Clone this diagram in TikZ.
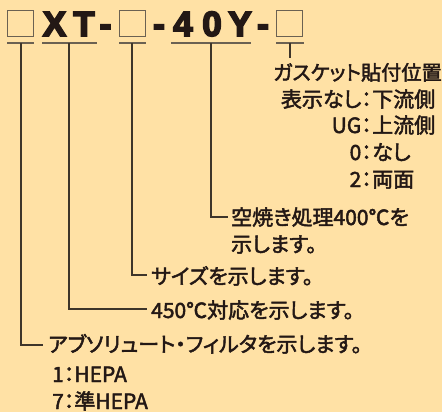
\documentclass[tikz,border=0pt]{standalone}
\usepackage{fontspec}
\newfontfamily\lblfont{Noto Sans CJK JP}[RawFeature={+palt}, FakeBold=2.2]
\newfontfamily\hdfont{Liberation Sans Bold}[FakeBold=5]
\definecolor{bgc}{HTML}{FFE1A5}
\definecolor{txc}{HTML}{231815}
\definecolor{boxc}{HTML}{6B6152}
\definecolor{linec}{HTML}{3E352A}
\tikzset{
  hd/.style={font=\hdfont\fontsize{35}{35}\selectfont, text=txc, inner sep=0pt, anchor=base},
  slot/.style={draw=boxc, line width=1.6pt},
  uline/.style={draw=boxc, line width=1.4pt},
  lead/.style={draw=linec, line width=1.3pt},
  lbl/.style={font=\lblfont\fontsize{21}{27}\selectfont, text=txc, inner sep=0pt, anchor=base west},
  lblr/.style={font=\lblfont\fontsize{21}{27}\selectfont, text=txc, inner sep=0pt, anchor=base east},
}
\begin{document}
\begin{tikzpicture}[x=1pt,y=-1pt]
\fill[bgc] (0,0) rectangle (442,412);
\useasboundingbox (0,0) rectangle (442,412);
% header slots
\draw[slot] (7.5,10.5) rectangle (33.5,36.5);
\draw[slot] (119.5,10.5) rectangle (145.5,36.5);
\draw[slot] (276.5,10.5) rectangle (302.5,36.5);
% header characters
\node[hd] (cX) at (54.5,36) {X};
\node[hd] (cT) at (84,36) {T};
\node[hd] (d1) at (105.5,36) {-};
\node[hd] (d2) at (159,36) {-};
\node[hd] (c4) at (183,36) {4};
\node[hd] (c0) at (212,36) {0};
\node[hd] (cY) at (240,36) {Y};
\node[hd] (d3) at (263,36) {-};
% underlines
\draw[uline] (7,43) -- (34,43);
\draw[uline] (42,43) -- (97,43);
\draw[uline] (119,43) -- (146,43);
\draw[uline] (171,43) -- (251,43);
\draw[uline] (276,43) -- (304,43);
% coordinates
\coordinate (t1) at (21,43);
\coordinate (t2) at (69,43);
\coordinate (t3) at (132,43);
\coordinate (t4) at (211,43);
\coordinate (t5) at (290,43);
% labels
\node[lbl, font=\lblfont\fontsize{20.2}{27}\selectfont] (g1) at (273,80) {ガスケット貼付位置};
\node[lblr] (g2a) at (372,107) {表示なし：};
\node[lbl] (g2b) at (372,107) {下流側};
\node[lblr] (g3a) at (372,133) {UG：};
\node[lbl] (g3b) at (372,133) {上流側};
\node[lblr] (g4a) at (372,160) {0：};
\node[lbl] (g4b) at (372,160) {なし};
\node[lblr] (g5a) at (372,187) {2：};
\node[lbl] (g5b) at (372,187) {両面};
\node[lbl] (k1) at (231,225) {空焼き処理400℃を};
\node[lbl] (k2) at (231,252) {示します。};
\node[lbl] (s1) at (151,284) {サイズを示します。};
\node[lbl] (h1) at (151,318) {450℃対応を示します。};
\node[lbl] (a1) at (48,352) {アブソリュート・フィルタを示します。};
\node[lbl] (a2) at (52,382) {1：HEPA};
\node[lbl] (a3) at (52,409) {7：準HEPA};
% leaders
\draw[lead] (t5) -- (290,58);
\draw[lead] (t4) |- (228,217);
\draw[lead] (t3) |- (147,275);
\draw[lead] (t2) |- (147,309);
\draw[lead] (t1) |- (43,345);
\end{tikzpicture}
\end{document}
